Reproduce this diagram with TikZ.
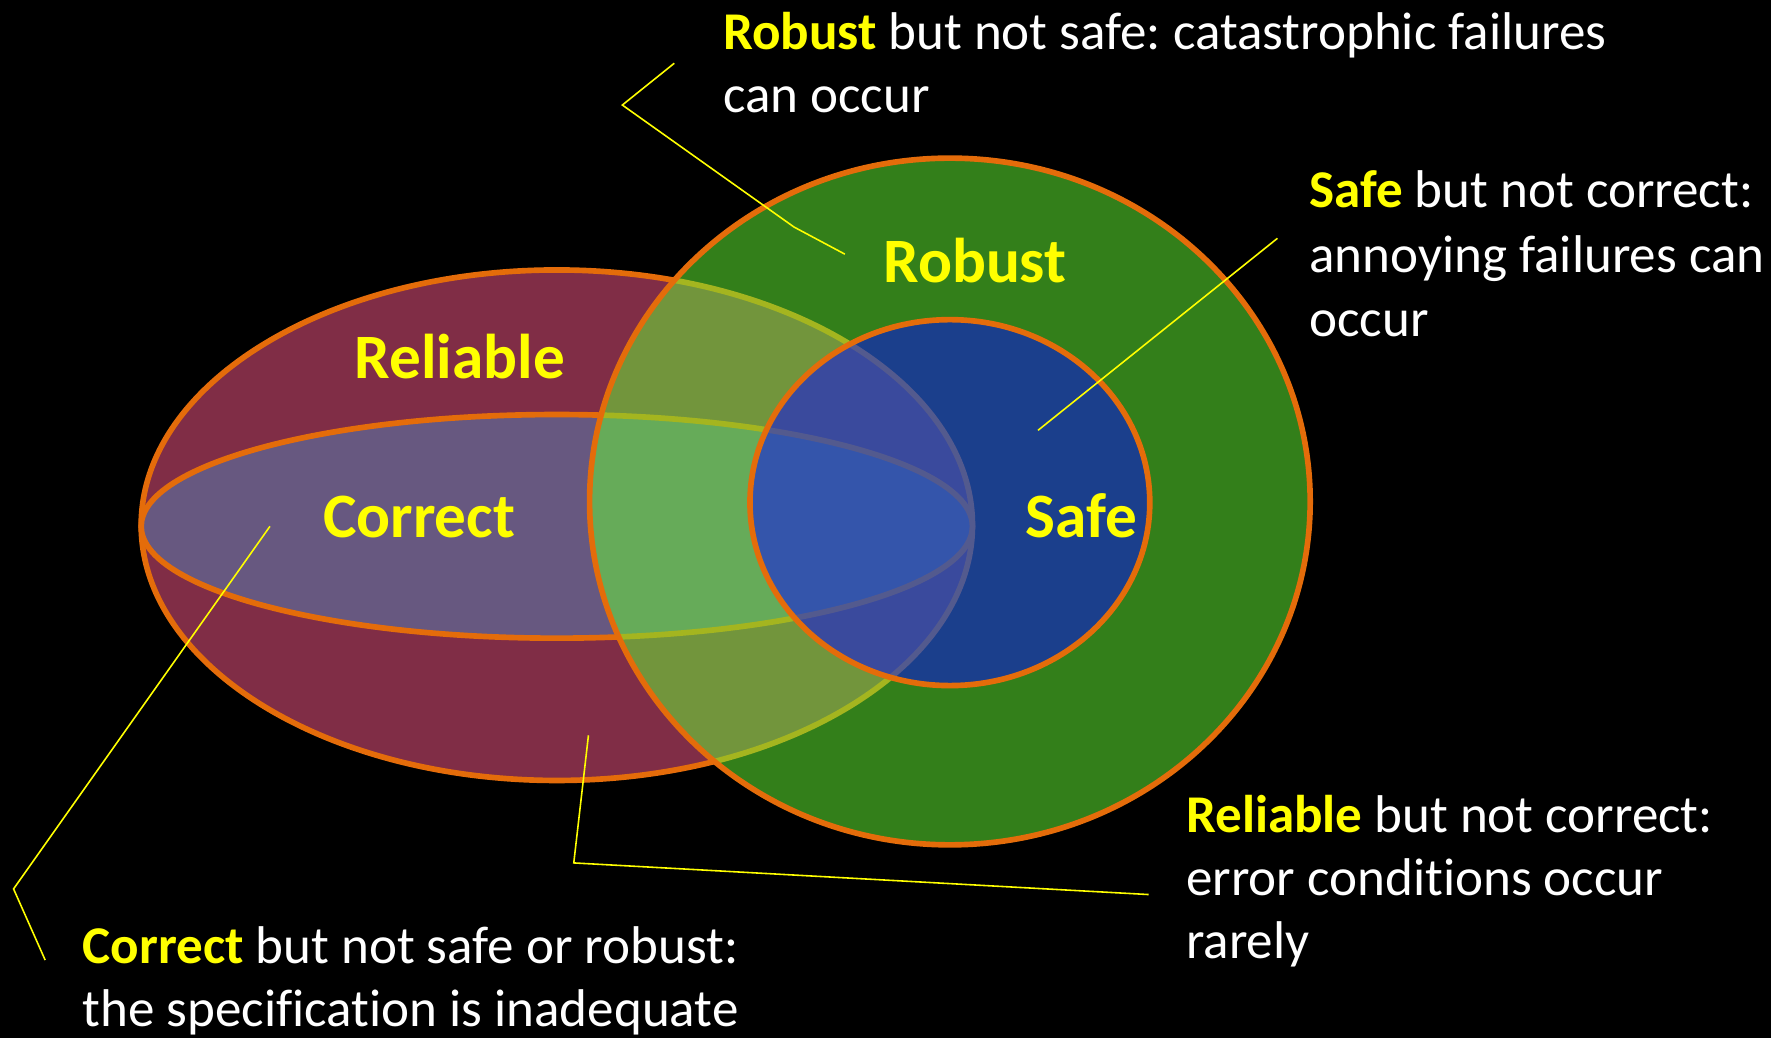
\documentclass[tikz,border=0pt]{standalone}
\usepackage{fontspec}
\setmainfont{Carlito}[Ligatures=NoCommon]
\definecolor{orangeline}{RGB}{228,108,10}
\definecolor{callout}{RGB}{255,255,0}
\definecolor{reliablefill}{RGB}{128,45,70}
\definecolor{correctfill}{RGB}{103,88,128}
\definecolor{robustfill}{RGB}{102,254,52}
\definecolor{safefill}{RGB}{4,0,254}
\frenchspacing
\begin{document}
\begin{tikzpicture}[x=1pt,y=-1pt,
  outline/.style={draw=orangeline, line width=5pt},
  leader/.style={draw=callout, line width=1.4pt, line join=miter},
  setlabel/.style={text=callout, font=\fontsize{56}{67}\selectfont\bfseries, anchor=base west, inner sep=0pt},
  note/.style={text=white, font=\fontsize{47}{56}\selectfont, anchor=base west, inner sep=0pt}]
% canvas
\fill[black] (0,0) rectangle (1568,919);
\useasboundingbox (0,0) rectangle (1568,919);

% the four sets
\draw[outline, fill=reliablefill] (493,465) ellipse [x radius=368pt, y radius=226pt];
\draw[outline, fill=correctfill] (493,466) ellipse [x radius=368pt, y radius=99pt];
\draw[outline, fill=robustfill, fill opacity=0.5] (841,444) ellipse [x radius=319pt, y radius=304pt];
\draw[outline, fill=safefill, fill opacity=0.5] (841,445) ellipse [x radius=177pt, y radius=162pt];

% set names
\node[setlabel] (robustname) at (782,250) {Robust};
\node[setlabel] (reliablename) at (314,335) {Reliable};
\node[setlabel] (correctname) at (286,476) {Correct};
\node[setlabel] (safename) at (908,476) {Safe};

% explanatory notes
\node[note] (robustnoteA) at (640,44) {\textcolor{callout}{\bfseries Robust} but not safe: catastrophic failures};
\node[note] (robustnoteB) at (640,100) {can occur};
\node[note] (safenoteA) at (1159,184) {\textcolor{callout}{\bfseries Safe} but not correct:};
\node[note] (safenoteB) at (1159,241) {annoying failures can};
\node[note] (safenoteC) at (1159,298) {occur};
\node[note] (relnoteA) at (1050,737) {\textcolor{callout}{\bfseries Reliable} but not correct:};
\node[note] (relnoteB) at (1050,793) {error conditions occur};
\node[note] (relnoteC) at (1050,849) {rarely};
\node[note] (cornoteA) at (73,853) {\textcolor{callout}{\bfseries Correct} but not safe or robust:};
\node[note] (cornoteB) at (73,909) {the specification is inadequate};

% leader line points
\coordinate (rb0) at (748,225);
\coordinate (rb1) at (703,201);
\coordinate (rb2) at (551,93);
\coordinate (rb3) at (597,56);
\coordinate (sf0) at (919,381);
\coordinate (sf1) at (1131,211);
\coordinate (cr0) at (239,466);
\coordinate (cr1) at (12,787);
\coordinate (cr2) at (40,850);
\coordinate (rl0) at (521,651);
\coordinate (rl1) at (508,764);
\coordinate (rl2) at (1017,792);

% leader lines
\draw[leader] (rb0) -- (rb1) -- (rb2) -- (rb3);
\draw[leader] (sf0) -- (sf1);
\draw[leader] (cr0) -- (cr1) -- (cr2);
\draw[leader] (rl0) -- (rl1) -- (rl2);
\end{tikzpicture}
\end{document}
